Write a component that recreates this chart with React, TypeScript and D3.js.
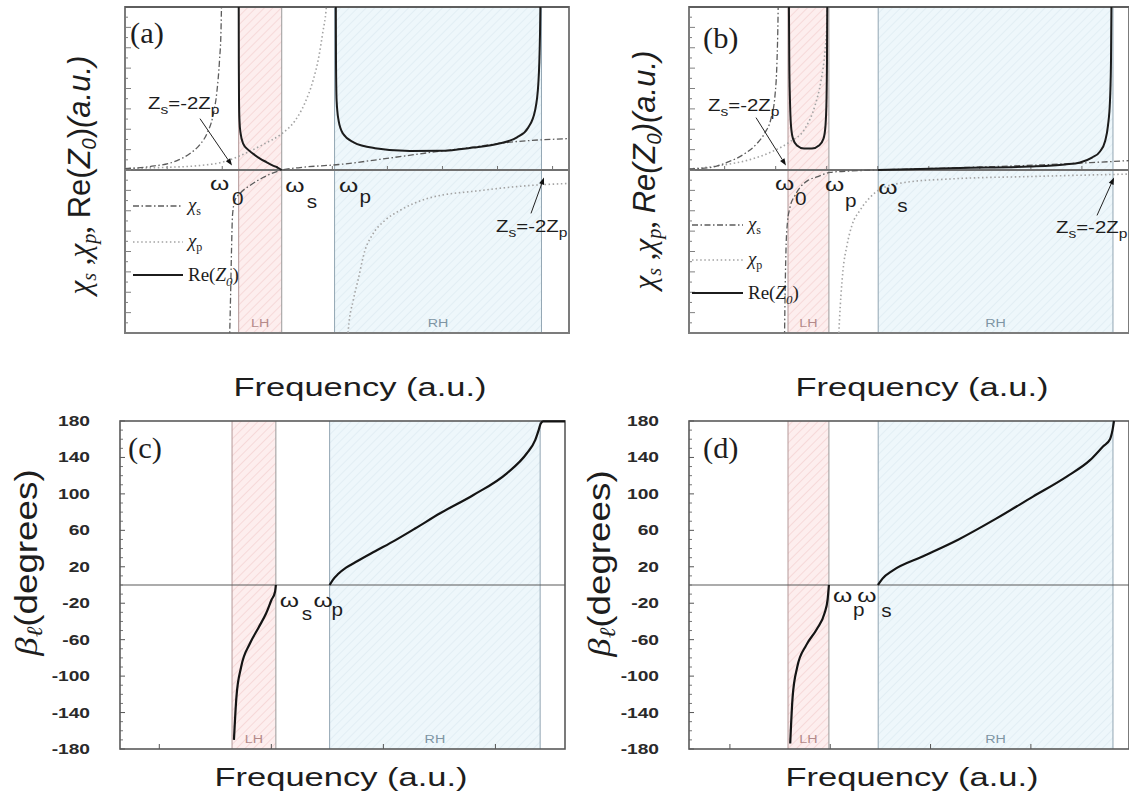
import React from 'react';
import * as d3 from 'd3';

type Pt = [number, number];
type Frame = { x0: number; x1: number; y0: number; y1: number };

const W = 1129;
const H = 800;
const SANS = "'Liberation Sans', Arial, Helvetica, sans-serif";
const SERIF = "'Liberation Serif', 'Times New Roman', Times, serif";

// Left-/right-handed pass bands (frequency, a.u.)
const lhAC: Pt = [2.56, 3.53]; // ω0 … ωs
const rhAC: Pt = [4.72, 9.38]; // ωp … Zs = -2Zp
const lhBD: Pt = [2.25, 3.18]; // ω0 … ωp
const rhBD: Pt = [4.3, 9.636]; // ωs … Zs = -2Zp

// (a) reactances and Re(Z0), case ωs < ωp
const reZ_A_lh: Pt[] = [[2.561, 8.4], [2.563, 5.36], [2.568, 3.4], [2.579, 2.42], [2.601, 1.83], [2.664, 1.28], [2.77, 1.0], [2.889, 0.79], [3.041, 0.56], [3.191, 0.38], [3.311, 0.24], [3.417, 0.14], [3.53, 0]];
const reZ_A_rh: Pt[] = [[4.748, 8.4], [4.752, 5.36], [4.766, 3.4], [4.811, 2.42], [4.908, 1.79], [5.149, 1.36], [5.631, 1.07], [6.419, 0.93], [7.095, 0.94], [7.838, 1.1], [8.378, 1.28], [8.829, 1.6], [9.083, 2.09], [9.234, 2.91], [9.309, 4.23], [9.347, 6.68], [9.358, 8.4]];
const chiS_A_1: Pt[] = [[0, 0.07], [0.563, 0.17], [1.171, 0.46], [1.464, 0.81], [1.689, 1.25], [1.847, 1.79], [1.982, 2.67], [2.072, 3.89], [2.128, 5.36], [2.162, 6.83], [2.176, 8.4]];
const chiS_A_2: Pt[] = [[2.354, -8.4], [2.376, -6.38], [2.399, -3.94], [2.421, -2.23], [2.477, -1.49], [2.59, -1.15], [2.815, -0.76], [3.108, -0.37], [3.53, 0], [3.941, 0.12], [4.82, 0.27], [6.036, 0.61], [6.869, 0.86], [7.77, 1.1], [8.604, 1.35], [10, 1.54]];
const chiP_A_1: Pt[] = [[0, 0.07], [0.788, 0.12], [1.689, 0.22], [2.252, 0.42], [2.703, 0.81], [3.153, 1.3], [3.536, 1.79], [3.829, 2.42], [4.054, 3.3], [4.234, 4.38], [4.369, 5.6], [4.459, 6.81], [4.527, 7.8], [4.55, 8.4]];
const chiP_A_2: Pt[] = [[5.011, -8.4], [5.029, -7.85], [5.142, -6.38], [5.248, -5.41], [5.405, -3.94], [5.563, -3.21], [5.856, -2.47], [6.194, -1.98], [6.824, -1.39], [8.041, -1.0], [9.122, -0.76], [10, -0.66]];
const zsTips_A: Pt[] = [[2.41, 0.22], [9.437, -0.37]];
const zsTails_A: Pt[] = [[1.689, 2.52], [9.144, -2.13]];
const zsText_A: Pt[] = [[0.518, 3.0], [8.356, -3.06]];

// (b) reactances and Re(Z0), case ωp < ωs
const reZ_B_lh: Pt[] = [[2.27, 8.4], [2.279, 5.36], [2.295, 3.4], [2.318, 2.18], [2.363, 1.54], [2.454, 1.2], [2.613, 1.05], [2.795, 1.05], [2.954, 1.2], [3.057, 1.54], [3.102, 2.18], [3.125, 3.4], [3.136, 5.36], [3.143, 8.4]];
const reZ_B_rh: Pt[] = [[4.295, 0], [4.795, 0.03], [6.159, 0.1], [7.75, 0.17], [8.545, 0.27], [8.886, 0.37], [9.159, 0.61], [9.341, 0.91], [9.454, 1.4], [9.522, 2.18], [9.568, 3.4], [9.591, 5.36], [9.602, 8.4]];
const chiS_B_1: Pt[] = [[0, 0.05], [0.477, 0.12], [0.863, 0.37], [1.272, 0.81], [1.545, 1.3], [1.727, 1.83], [1.863, 2.52], [1.954, 3.65], [2.0, 5.36], [2.022, 7.31], [2.029, 8.4]];
const chiS_B_2: Pt[] = [[2.17, -8.4], [2.182, -6.38], [2.204, -3.94], [2.238, -2.57], [2.295, -1.83], [2.409, -1.25], [2.522, -0.86], [2.704, -0.51], [2.909, -0.34], [3.204, -0.12], [3.659, -0.05], [4.295, 0], [5.932, 0.1], [8.204, 0.27], [10, 0.46]];
const chiP_B_1: Pt[] = [[0, 0.05], [0.704, 0.22], [1.386, 0.51], [1.841, 0.86], [2.295, 1.39], [2.636, 2.03], [2.863, 3.16], [3.0, 4.38], [3.091, 5.85], [3.136, 7.31], [3.15, 8.4]];
const chiP_B_2: Pt[] = [[3.397, -8.4], [3.42, -7.36], [3.454, -6.14], [3.5, -4.92], [3.591, -3.69], [3.704, -2.71], [3.886, -1.98], [4.113, -1.35], [4.341, -0.95], [4.909, -0.61], [5.932, -0.44], [7.75, -0.32], [10, -0.2]];
const zsTips_B: Pt[] = [[2.204, 0.22], [9.66, -0.37]];
const zsTails_B: Pt[] = [[1.523, 2.57], [9.273, -2.23]];
const zsText_B: Pt[] = [[0.432, 2.91], [8.34, -3.11]];

// (c), (d) phase per cell βℓ (degrees)
const beta_C_lh: Pt[] = [[2.602, -170], [2.657, -123], [2.761, -90], [2.958, -64], [3.155, -46], [3.315, -31], [3.432, -16.5], [3.512, -7.3], [3.53, 0]];
const beta_C_rh: Pt[] = [[4.72, 0], [4.796, 6], [4.907, 12], [5.084, 19], [5.328, 26], [5.727, 37], [6.169, 49], [6.612, 62], [7.166, 78.7], [7.903, 98.8], [8.643, 122.6], [9.086, 144.6], [9.27, 159], [9.347, 170], [9.391, 177], [9.446, 179.5], [10.05, 179.5]];
const beta_D_lh: Pt[] = [[2.3, -174], [2.355, -123], [2.46, -90], [2.665, -66], [2.91, -48], [3.08, -31], [3.15, -16], [3.18, 0]];
const beta_D_rh: Pt[] = [[4.295, 0], [4.398, 7], [4.636, 16], [5.295, 31], [6.127, 50], [6.95, 72], [7.818, 97], [8.584, 119], [9.114, 137], [9.409, 152], [9.568, 160], [9.625, 170], [9.659, 180]];

// Axis ticks
const betaTicks = [180, 140, 100, 60, 20, -20, -60, -100, -140, -180];
const xTicksA = [0.95, 2.19, 3.43, 4.67, 5.91, 7.15, 8.39, 9.63];
const xTicksB = [0.81, 1.97, 3.13, 4.29, 5.45, 6.61, 7.77, 8.93];
const xTicksC = [0.95, 3.43, 5.91, 8.39];
const xTicksD = [0.93, 3.21, 5.49, 7.77];

const frameA: Frame = { x0: 125, x1: 569, y0: 7, y1: 333 };
const frameB: Frame = { x0: 689, x1: 1129, y0: 7, y1: 333 };
const frameC: Frame = { x0: 120, x1: 565, y0: 421, y1: 749 };
const frameD: Frame = { x0: 689, x1: 1129, y0: 421, y1: 749 };

const STY = {
  reZ: { stroke: '#1c1c1c', width: 2, dash: undefined as string | undefined },
  chiS: { stroke: '#5c5c5c', width: 1.3, dash: '6 2.5 1.5 2.5' },
  chiP: { stroke: '#a3a3a3', width: 1.6, dash: '1.5 2.6' },
  beta: { stroke: '#141414', width: 2.2, dash: undefined as string | undefined },
};

function scalesFor(f: Frame, xd: Pt, yd: Pt) {
  return {
    xs: d3.scaleLinear().domain(xd).range([f.x0, f.x1]),
    ys: d3.scaleLinear().domain(yd).range([f.y1, f.y0]),
  };
}

function Curve({ pts, xs, ys, st, clip }: any) {
  const gen = d3.line<Pt>().x((d) => xs(d[0])).y((d) => ys(d[1])).curve(d3.curveMonotoneX);
  return (
    <path d={gen(pts) || ''} fill="none" stroke={st.stroke} strokeWidth={st.width}
      strokeDasharray={st.dash} strokeLinejoin="round" clipPath={`url(#${clip})`} />
  );
}

function T({ x, y, sx = 1, rot = 0, anchor = 'start', size, family = SANS, weight, italic, fill = '#1d1d1d', children }: any) {
  return (
    <text transform={`translate(${x},${y}) rotate(${rot}) scale(${sx},1)`} textAnchor={anchor}
      fontSize={size} fontFamily={family} fontWeight={weight} fontStyle={italic ? 'italic' : undefined} fill={fill}>
      {children}
    </text>
  );
}

function Bands({ f, xs, lh, rh }: any) {
  const h = f.y1 - f.y0;
  const lx0 = xs(lh[0]), lx1 = xs(lh[1]), rx0 = xs(rh[0]), rx1 = xs(rh[1]);
  return (
    <g>
      <rect x={lx0} y={f.y0} width={lx1 - lx0} height={h} fill="url(#hatchLH)" />
      <rect x={rx0} y={f.y0} width={rx1 - rx0} height={h} fill="url(#hatchRH)" />
      <line x1={lx0} x2={lx0} y1={f.y0} y2={f.y1} stroke="#b49898" strokeWidth={1} />
      <line x1={lx1} x2={lx1} y1={f.y0} y2={f.y1} stroke="#9a9a9a" strokeWidth={1} />
      <line x1={rx0} x2={rx0} y1={f.y0} y2={f.y1} stroke="#92a6b3" strokeWidth={1} />
      <line x1={rx1} x2={rx1} y1={f.y0} y2={f.y1} stroke="#92a6b3" strokeWidth={1} />
      <T x={(lx0 + lx1) / 2} y={f.y1 - 6} anchor="middle" size={11} sx={1.3} fill="#b48a8a">LH</T>
      <T x={(rx0 + rx1) / 2} y={f.y1 - 6} anchor="middle" size={11} sx={1.3} fill="#7e95a4">RH</T>
    </g>
  );
}

function Omega({ x, y, sub, subX, subY }: any) {
  return (
    <g>
      <T x={x} y={y} size={19} sx={1.3}>ω</T>
      <T x={subX} y={subY} size={18} sx={1.15}>{sub}</T>
    </g>
  );
}

function ZsNote({ xs, ys, tip, tail, at }: any) {
  const tx = xs(tip[0]), ty = ys(tip[1]);
  const sx0 = xs(tail[0]), sy0 = ys(tail[1]);
  const a = Math.atan2(ty - sy0, tx - sx0);
  const L = 7, hw = 2.6;
  const bx = tx - L * Math.cos(a), by = ty - L * Math.sin(a);
  const p1 = [bx + hw * Math.sin(a), by - hw * Math.cos(a)];
  const p2 = [bx - hw * Math.sin(a), by + hw * Math.cos(a)];
  return (
    <g>
      <line x1={sx0} y1={sy0} x2={bx} y2={by} stroke="#222" strokeWidth={1} />
      <polygon points={`${tx},${ty} ${p1[0]},${p1[1]} ${p2[0]},${p2[1]}`} fill="#111" />
      <T x={xs(at[0])} y={ys(at[1])} size={17} sx={1.2}>
        Z<tspan fontSize={13} dy={5}>s</tspan><tspan dy={-5}>=-2Z</tspan><tspan fontSize={13} dy={5}>p</tspan>
      </T>
    </g>
  );
}

function ImpAxes({ f, xs, ys, xt }: any) {
  const yt = d3.range(-7.5, 7.51, 0.5);
  return (
    <g>
      <line x1={f.x0} x2={f.x1} y1={ys(0)} y2={ys(0)} stroke="#707070" strokeWidth={1.8} />
      {xt.map((v: number) => (
        <line key={'x' + v} x1={xs(v)} x2={xs(v)} y1={ys(0)} y2={ys(0) - 4} stroke="#707070" strokeWidth={1} />
      ))}
      {yt.map((v: number) => (
        <line key={'y' + v} x1={f.x0} x2={f.x0 + (Number.isInteger(v) ? 6 : 3)} y1={ys(v)} y2={ys(v)} stroke="#808080" strokeWidth={1} />
      ))}
      <rect x={f.x0} y={f.y0} width={f.x1 - f.x0} height={f.y1 - f.y0} fill="none" stroke="#7c7c7c" strokeWidth={2} />
      <line x1={f.x0} x2={f.x1} y1={f.y0} y2={f.y0} stroke="#5e5e5e" strokeWidth={2} />
    </g>
  );
}

function BetaAxes({ f, xs, ys, xt, labelX }: any) {
  const minor = d3.range(-170, 171, 10).filter((v) => !betaTicks.includes(v));
  return (
    <g>
      <line x1={f.x0} x2={f.x1} y1={ys(0)} y2={ys(0)} stroke="#5a5a5a" strokeWidth={1.2} />
      {betaTicks.map((v) => (
        <g key={'b' + v}>
          <line x1={f.x0} x2={f.x0 + 5} y1={ys(v)} y2={ys(v)} stroke="#555" strokeWidth={1} />
          <T x={labelX} y={ys(v) + 5} anchor="end" size={14} sx={1.37} weight="bold" fill="#2a2a2a">{v}</T>
        </g>
      ))}
      {minor.map((v) => (
        <line key={'m' + v} x1={f.x0} x2={f.x0 + 3} y1={ys(v)} y2={ys(v)} stroke="#777" strokeWidth={1} />
      ))}
      {xt.map((v: number) => (
        <line key={'x' + v} x1={xs(v)} x2={xs(v)} y1={f.y1} y2={f.y1 - 5} stroke="#555" strokeWidth={1} />
      ))}
      <rect x={f.x0} y={f.y0} width={f.x1 - f.x0} height={f.y1 - f.y0} fill="none" stroke="#5a5a5a" strokeWidth={1.6} />
    </g>
  );
}

function Legend({ x0, x1, ys3 }: any) {
  const [y1, y2, y3] = ys3;
  return (
    <g>
      <line x1={x0} x2={x1} y1={y1} y2={y1} stroke={STY.chiS.stroke} strokeWidth={1.3} strokeDasharray={STY.chiS.dash} />
      <line x1={x0} x2={x1} y1={y2} y2={y2} stroke={STY.chiP.stroke} strokeWidth={1.6} strokeDasharray={STY.chiP.dash} />
      <line x1={x0} x2={x1} y1={y3} y2={y3} stroke={STY.reZ.stroke} strokeWidth={2} />
      <T x={x1 + 5} y={y1 + 5} size={19} family={SERIF}>
        <tspan fontStyle="italic">χ</tspan><tspan fontSize={12} dy={4}>s</tspan>
      </T>
      <T x={x1 + 5} y={y2 + 5} size={19} family={SERIF}>
        <tspan fontStyle="italic">χ</tspan><tspan fontSize={12} dy={4}>p</tspan>
      </T>
      <T x={x1 + 5} y={y3 + 6} size={19} family={SERIF}>
        Re(<tspan fontStyle="italic">Z</tspan><tspan fontStyle="italic" fontSize={13} dy={5}>0</tspan><tspan dy={-5}>)</tspan>
      </T>
    </g>
  );
}

function ImpYLabel({ x, y, italicRe }: any) {
  return (
    <text transform={`translate(${x},${y}) rotate(-90)`} textAnchor="middle" fontSize={31} fill="#1d1d1d">
      <tspan fontFamily={SERIF} fontStyle="italic">χ</tspan>
      <tspan fontFamily={SERIF} fontStyle="italic" fontSize={20} dy={6}>s</tspan>
      <tspan fontFamily={SERIF} dy={-6}>{' ,'}</tspan>
      <tspan fontFamily={SERIF} fontStyle="italic">χ</tspan>
      <tspan fontFamily={SERIF} fontStyle="italic" fontSize={20} dy={6}>p</tspan>
      <tspan fontFamily={SERIF} dy={-6}>{', '}</tspan>
      <tspan fontFamily={SANS} fontStyle={italicRe ? 'italic' : undefined}>Re(</tspan>
      <tspan fontFamily={SANS} fontStyle="italic">Z</tspan>
      <tspan fontFamily={SANS} fontStyle="italic" fontSize={20} dy={6}>0</tspan>
      <tspan fontFamily={SANS} fontStyle={italicRe ? 'italic' : undefined} dy={-6}>)</tspan>
      <tspan fontFamily={SANS} fontStyle="italic">(a.u.)</tspan>
    </text>
  );
}

function BetaYLabel({ x, y }: any) {
  return (
    <text transform={`translate(${x},${y}) rotate(-90) scale(1.15,1)`} textAnchor="middle" fontSize={32} fill="#1d1d1d">
      <tspan fontFamily={SERIF} fontStyle="italic">β</tspan>
      <tspan fontFamily={SERIF} fontStyle="italic" fontSize={22} dy={5}>ℓ</tspan>
      <tspan fontFamily={SANS} dy={-5}>(degrees)</tspan>
    </text>
  );
}

function FreqLabel({ cx, y }: any) {
  return <T x={cx} y={y} anchor="middle" size={25} sx={1.38}>Frequency (a.u.)</T>;
}

export default function App() {
  const A = scalesFor(frameA, [0, 10], [-8, 8]);
  const B = scalesFor(frameB, [0, 10], [-8, 8]);
  const C = scalesFor(frameC, [0.08, 9.93], [-180, 180]);
  const D = scalesFor(frameD, [0, 10], [-180, 180]);

  const clipRect = (id: string, f: Frame) => (
    <clipPath id={id}>
      <rect x={f.x0} y={f.y0} width={f.x1 - f.x0} height={f.y1 - f.y0} />
    </clipPath>
  );

  return (
    <svg width={W} height={H} viewBox={`0 0 ${W} ${H}`} style={{ position: 'absolute', left: 0, top: 0, display: 'block' }}>
      <defs>
        <pattern id="hatchLH" width={6} height={6} patternUnits="userSpaceOnUse" patternTransform="rotate(45)">
          <rect width={6} height={6} fill="#fdeeee" />
          <line x1={0} y1={0} x2={0} y2={6} stroke="#f0c4c4" strokeWidth={1} />
        </pattern>
        <pattern id="hatchRH" width={6} height={6} patternUnits="userSpaceOnUse" patternTransform="rotate(45)">
          <rect width={6} height={6} fill="#eef7fb" />
          <line x1={0} y1={0} x2={0} y2={6} stroke="#d6e6ee" strokeWidth={1} />
        </pattern>
        {clipRect('clipA', frameA)}
        {clipRect('clipB', frameB)}
        {clipRect('clipC', { ...frameC, y0: frameC.y0 - 2 })}
        {clipRect('clipD', { ...frameD, y0: frameD.y0 - 2 })}
      </defs>
      <rect width={W} height={H} fill="#fff" />

      {/* (a) */}
      <Bands f={frameA} xs={A.xs} lh={lhAC} rh={rhAC} />
      <ImpAxes f={frameA} xs={A.xs} ys={A.ys} xt={xTicksA} />
      <Curve pts={chiP_A_1} {...A} st={STY.chiP} clip="clipA" />
      <Curve pts={chiP_A_2} {...A} st={STY.chiP} clip="clipA" />
      <Curve pts={chiS_A_1} {...A} st={STY.chiS} clip="clipA" />
      <Curve pts={chiS_A_2} {...A} st={STY.chiS} clip="clipA" />
      <Curve pts={reZ_A_lh} {...A} st={STY.reZ} clip="clipA" />
      <Curve pts={reZ_A_rh} {...A} st={STY.reZ} clip="clipA" />
      {zsTips_A.map((t, i) => (
        <ZsNote key={'za' + i} {...A} tip={t} tail={zsTails_A[i]} at={zsText_A[i]} />
      ))}
      <Omega x={A.xs(lhAC[0]) - 28.6} y={190} sub="0" subX={A.xs(lhAC[0]) - 6.6} subY={205} />
      <Omega x={A.xs(lhAC[1]) + 3.5} y={192} sub="s" subX={A.xs(lhAC[1]) + 25} subY={208} />
      <Omega x={A.xs(rhAC[0]) + 4.5} y={192} sub="p" subX={A.xs(rhAC[0]) + 25} subY={203} />
      <Legend x0={133} x1={183} ys3={[206, 242, 275]} />
      <T x={130} y={43} size={29} family={SERIF} sx={1.05}>(a)</T>
      <ImpYLabel x={90} y={175} />
      <FreqLabel cx={360} y={396} />

      {/* (b) */}
      <Bands f={frameB} xs={B.xs} lh={lhBD} rh={rhBD} />
      <ImpAxes f={frameB} xs={B.xs} ys={B.ys} xt={xTicksB} />
      <Curve pts={chiP_B_1} {...B} st={STY.chiP} clip="clipB" />
      <Curve pts={chiP_B_2} {...B} st={STY.chiP} clip="clipB" />
      <Curve pts={chiS_B_1} {...B} st={STY.chiS} clip="clipB" />
      <Curve pts={chiS_B_2} {...B} st={STY.chiS} clip="clipB" />
      <Curve pts={reZ_B_lh} {...B} st={STY.reZ} clip="clipB" />
      <Curve pts={reZ_B_rh} {...B} st={STY.reZ} clip="clipB" />
      {zsTips_B.map((t, i) => (
        <ZsNote key={'zb' + i} {...B} tip={t} tail={zsTails_B[i]} at={zsText_B[i]} />
      ))}
      <Omega x={B.xs(lhBD[0]) - 13} y={190} sub="0" subX={B.xs(lhBD[0]) + 7} subY={205} />
      <Omega x={B.xs(lhBD[1]) - 4} y={191} sub="p" subX={B.xs(lhBD[1]) + 16} subY={207} />
      <Omega x={B.xs(rhBD[0])} y={194} sub="s" subX={B.xs(rhBD[0]) + 19} subY={212} />
      <Legend x0={692} x1={743} ys3={[225, 260, 293]} />
      <T x={703} y={48} size={29} family={SERIF} sx={1.05}>(b)</T>
      <ImpYLabel x={655} y={170} italicRe />
      <FreqLabel cx={922} y={396} />

      {/* (c) */}
      <Bands f={frameC} xs={C.xs} lh={lhAC} rh={rhAC} />
      <BetaAxes f={frameC} xs={C.xs} ys={C.ys} xt={xTicksC} labelX={frameC.x0 - 30} />
      <Curve pts={beta_C_lh} {...C} st={STY.beta} clip="clipC" />
      <Curve pts={beta_C_rh} {...C} st={STY.beta} clip="clipC" />
      <Omega x={C.xs(lhAC[1]) + 4} y={607} sub="s" subX={C.xs(lhAC[1]) + 26} subY={620} />
      <Omega x={C.xs(rhAC[0]) - 16} y={607} sub="p" subX={C.xs(rhAC[0]) + 2} subY={616} />
      <T x={128} y={458} size={29} family={SERIF} sx={1.05}>(c)</T>
      <BetaYLabel x={37} y={562.5} />
      <FreqLabel cx={341} y={786} />

      {/* (d) */}
      <Bands f={frameD} xs={D.xs} lh={lhBD} rh={rhBD} />
      <BetaAxes f={frameD} xs={D.xs} ys={D.ys} xt={xTicksD} labelX={frameD.x0 - 30} />
      <Curve pts={beta_D_lh} {...D} st={STY.beta} clip="clipD" />
      <Curve pts={beta_D_rh} {...D} st={STY.beta} clip="clipD" />
      <Omega x={D.xs(lhBD[1]) + 4} y={602} sub="p" subX={D.xs(lhBD[1]) + 24} subY={616} />
      <Omega x={D.xs(rhBD[0]) - 21} y={602} sub="s" subX={D.xs(rhBD[0]) + 3} subY={617} />
      <T x={703} y={458} size={29} family={SERIF} sx={1.05}>(d)</T>
      <BetaYLabel x={610} y={563.5} />
      <FreqLabel cx={912} y={786} />
    </svg>
  );
}
